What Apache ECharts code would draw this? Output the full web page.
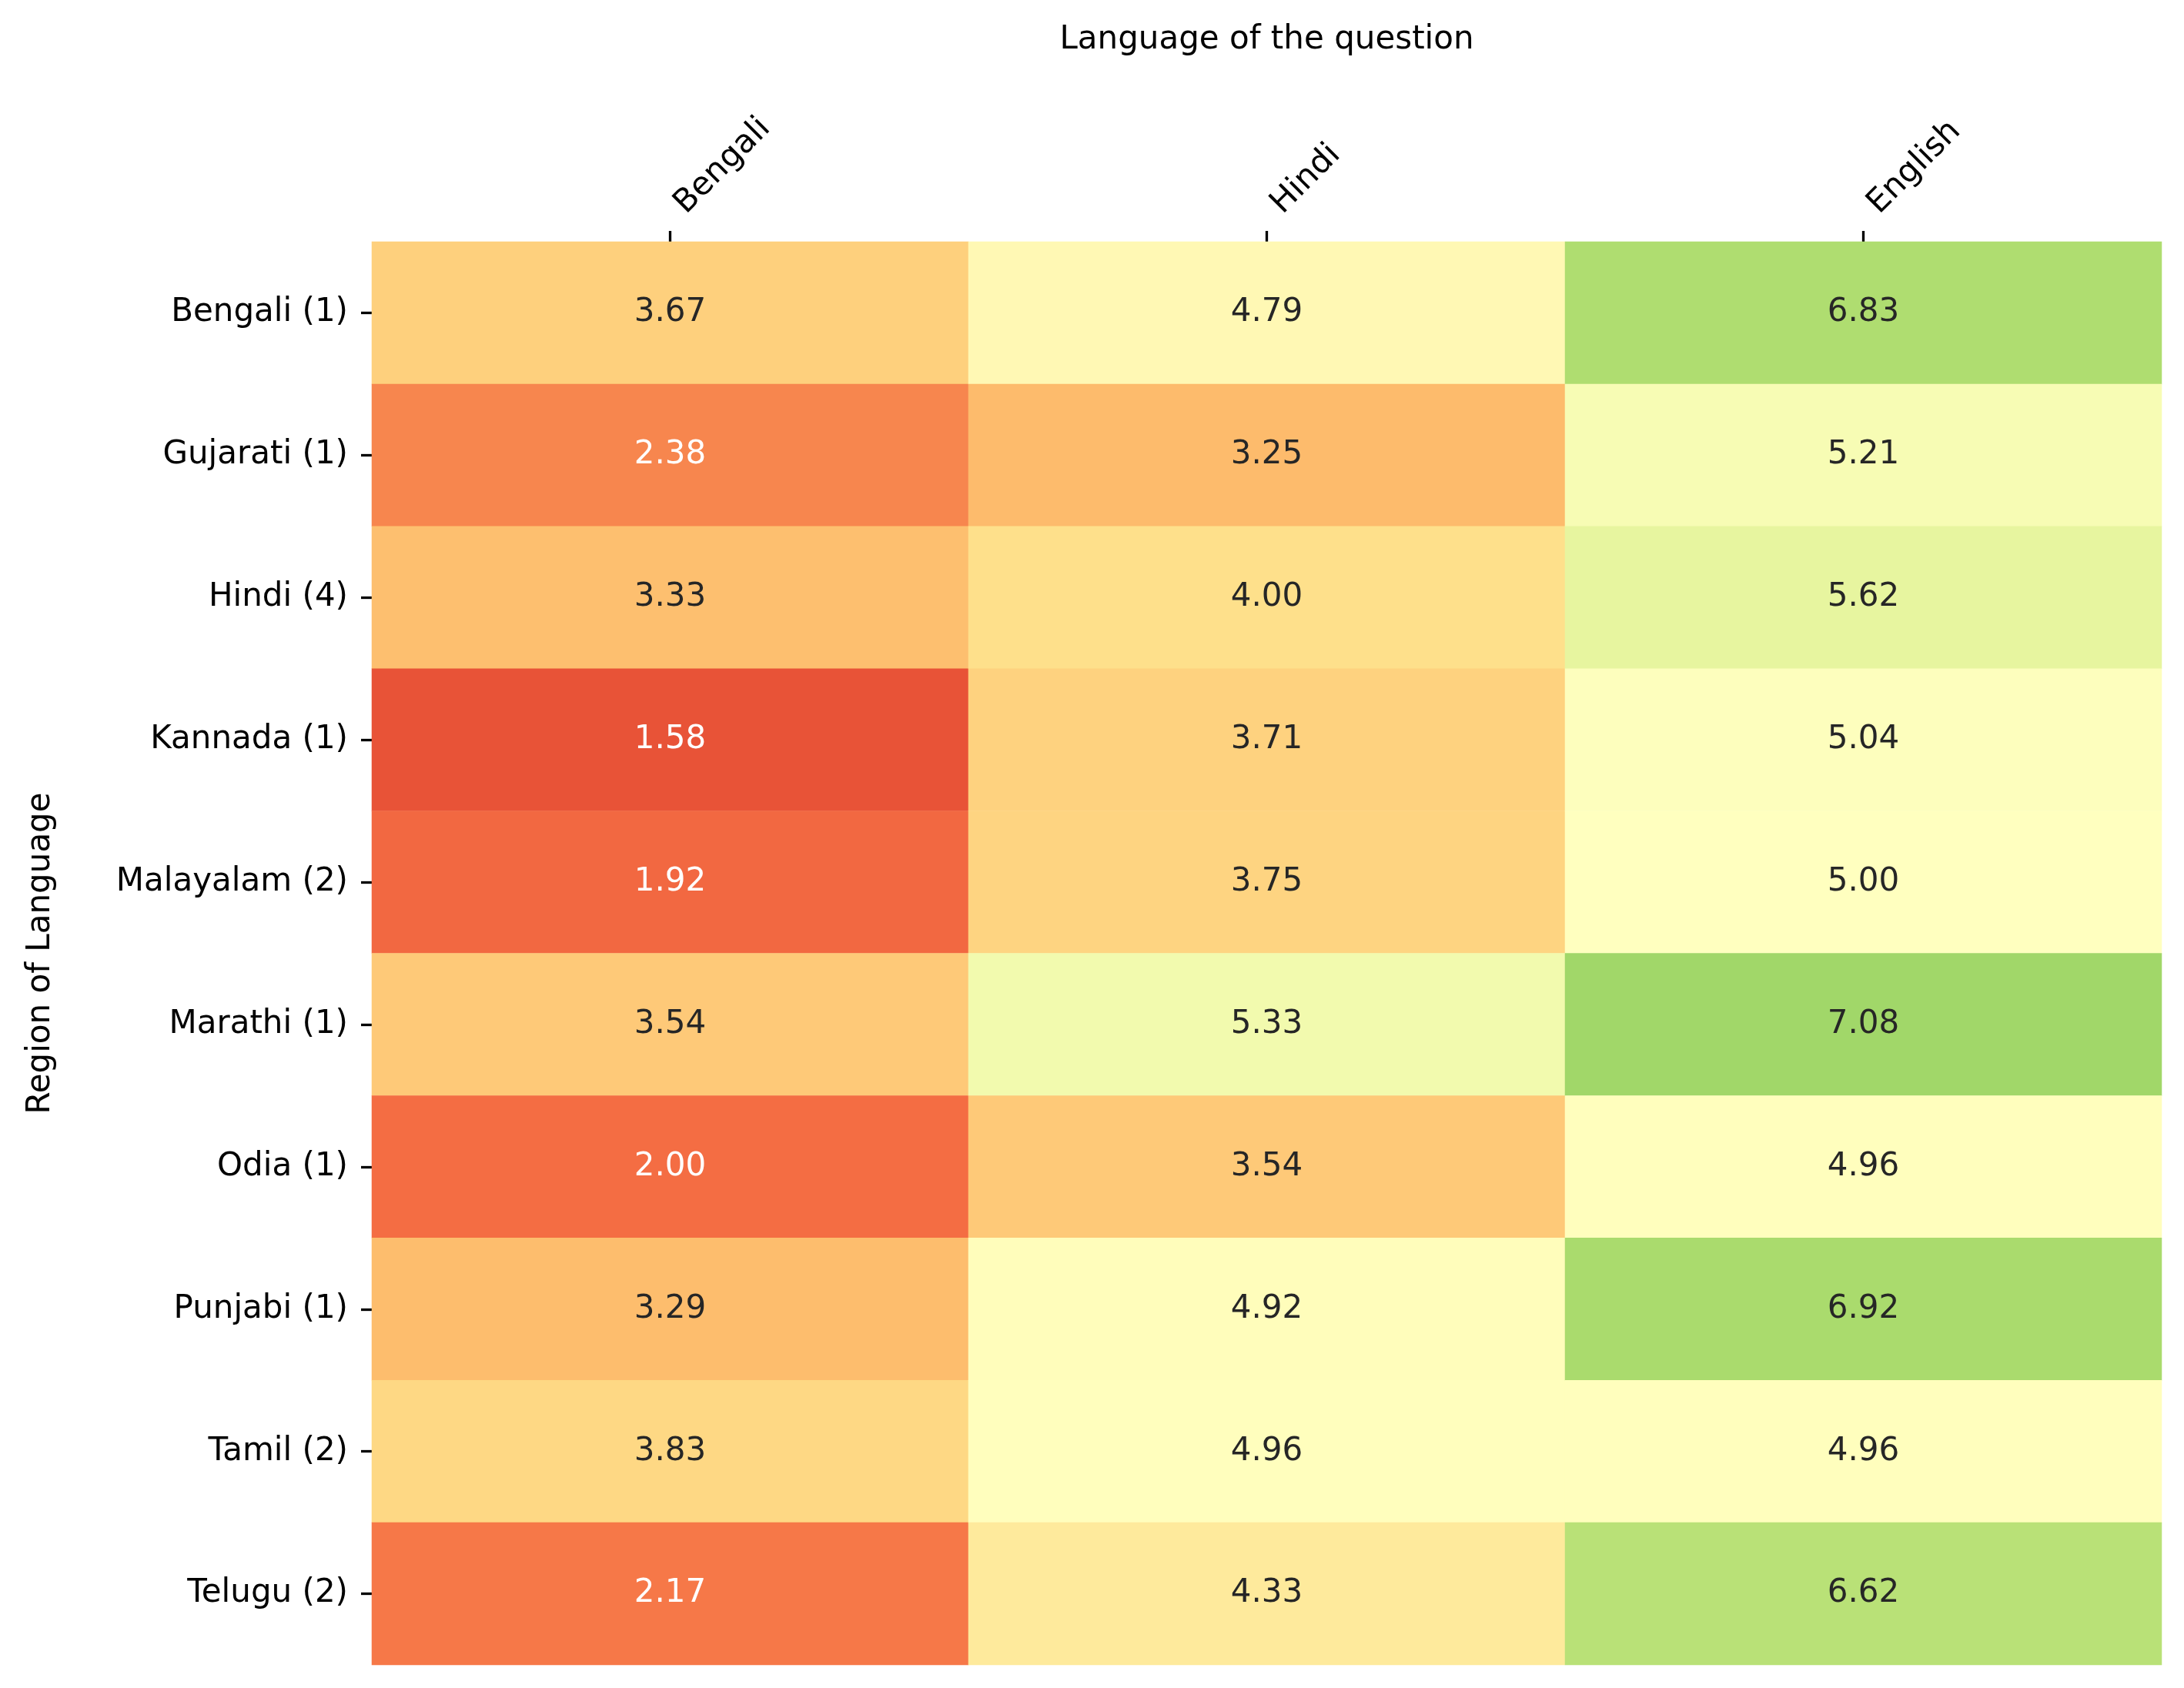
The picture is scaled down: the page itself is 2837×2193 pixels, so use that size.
<!DOCTYPE html>
<html>
<head>
<meta charset="utf-8">
<script src="https://cdn.jsdelivr.net/npm/echarts@6/dist/echarts.min.js"></script>
<style>
  html, body { margin: 0; padding: 0; background: #fff; }
  #main { width: 2837px; height: 2193px; }
</style>
</head>
<body>
<div id="main"></div>
<script>
// data
const questionLangs = ['Bengali', 'Hindi', 'English'];
const regions = ['Bengali (1)', 'Gujarati (1)', 'Hindi (4)', 'Kannada (1)', 'Malayalam (2)',
                 'Marathi (1)', 'Odia (1)', 'Punjabi (1)', 'Tamil (2)', 'Telugu (2)'];
const bengaliScores = [3.67, 2.38, 3.33, 1.58, 1.92, 3.54, 2.00, 3.29, 3.83, 2.17];
const hindiScores   = [4.79, 3.25, 4.00, 3.71, 3.75, 5.33, 3.54, 4.92, 4.96, 4.33];
const englishScores = [6.83, 5.21, 5.62, 5.04, 5.00, 7.08, 4.96, 6.92, 4.96, 6.62];

// RdYlGn, vmin 0 / vmax 10
const rdYlGn = ['#a50026', '#d73027', '#f46d43', '#fdae61', '#fee08b', '#ffffbf',
                '#d9ef8b', '#a6d96a', '#66bd63', '#1a9850', '#006837'];

function hexRgb(h) {
    return [1, 3, 5].map(i => parseInt(h.substr(i, 2), 16) / 255);
}
function cmap(v) {
    let t = Math.max(0, Math.min(1, v / 10)) * (rdYlGn.length - 1);
    let i = Math.min(Math.floor(t), rdYlGn.length - 2), f = t - i;
    let a = hexRgb(rdYlGn[i]), b = hexRgb(rdYlGn[i + 1]);
    return a.map((c, k) => c + (b[k] - c) * f);
}
// seaborn style: light text on dark cells
function textColor(v) {
    let lum = cmap(v).map(c => c <= 0.03928 ? c / 12.92 : Math.pow((c + 0.055) / 1.055, 2.4));
    let L = 0.2126 * lum[0] + 0.7152 * lum[1] + 0.0722 * lum[2];
    return L > 0.408 ? '#262626' : '#ffffff';
}

const columns = [bengaliScores, hindiScores, englishScores];
let cells = [];
columns.forEach((col, x) => {
    col.forEach((v, y) => {
        cells.push({value: [x, y, v], label: {color: textColor(v)}});
    });
});

const font = 'DejaVu Sans';
const chart = echarts.init(document.getElementById('main'));
chart.setOption({
    animation: false,
    textStyle: {fontFamily: font},
    grid: {left: 483, top: 314, width: 2325, height: 1849},
    xAxis: {
        type: 'category',
        position: 'top',
        data: questionLangs,
        name: 'Language of the question',
        nameLocation: 'middle',
        nameGap: 241,
        nameTextStyle: {fontSize: 42, color: '#000', fontFamily: font},
        axisLine: {show: false},
        axisTick: {show: true, alignWithLabel: true, length: 14, lineStyle: {color: '#000', width: 3.3}},
        axisLabel: {fontSize: 42, color: '#000', rotate: -45, margin: 30, padding: [0, 0, 0, 18], fontFamily: font},
        splitLine: {show: false}
    },
    yAxis: {
        type: 'category',
        inverse: true,
        data: regions,
        name: 'Region of Language',
        nameLocation: 'middle',
        nameRotate: 90,
        nameGap: 409,
        nameTextStyle: {fontSize: 42, color: '#000', fontFamily: font},
        axisLine: {show: false},
        axisTick: {show: true, alignWithLabel: true, length: 14, lineStyle: {color: '#000', width: 3.3}},
        axisLabel: {fontSize: 42, color: '#000', margin: 31, fontFamily: font},
        splitLine: {show: false}
    },
    visualMap: {
        show: false,
        min: 0,
        max: 10,
        dimension: 2,
        inRange: {color: rdYlGn}
    },
    series: [{
        type: 'heatmap',
        data: cells,
        label: {
            show: true,
            fontSize: 42,
            fontFamily: font,
            formatter: p => p.value[2].toFixed(2)
        },
        itemStyle: {borderWidth: 0}
    }]
});
</script>
</body>
</html>
